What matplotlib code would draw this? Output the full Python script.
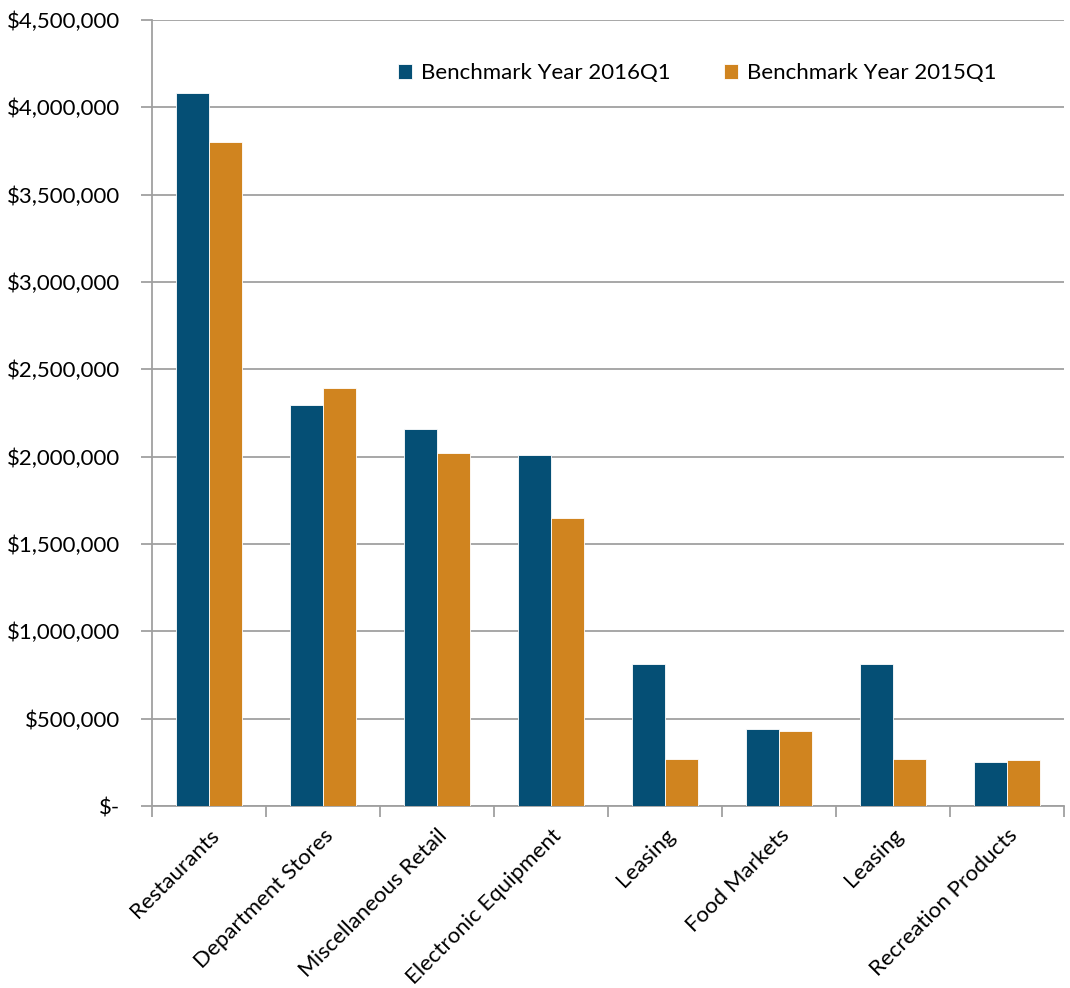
import numpy as np
import matplotlib
matplotlib.use("Agg")
import matplotlib.pyplot as plt
from matplotlib.ticker import FuncFormatter, FixedLocator

############################
# DATA
############################
categories = ["Restaurants", "Department Stores", "Miscellaneous Retail",
              "Electronic Equipment", "Leasing", "Food Markets", "Leasing",
              "Recreation Products"]
bench_2016 = [4082000, 2296000, 2160000, 2012000, 811000, 439000, 811000, 252000]
bench_2015 = [3801000, 2393000, 2021000, 1649000, 267000, 428000, 267000, 265000]
series_names = ["Benchmark Year 2016Q1", "Benchmark Year 2015Q1"]

C_2016 = "#054F75"
C_2015 = "#D0841F"
GRID = "#A0A0A0"

plt.rcParams["font.family"] = ["Lato", "DejaVu Sans"]

############################
# PLOT
############################
fig = plt.figure(figsize=(10.70, 9.88), dpi=100)
ax = fig.add_axes([152/1070, 1 - 806/988, (1064-152)/1070, (806-20)/988])

x = np.arange(len(categories))
w = 0.29
ax.bar(x - w/2, bench_2016, w, color=C_2016, edgecolor="white", linewidth=0.6,
       label=series_names[0], zorder=3)
ax.bar(x + w/2, bench_2015, w, color=C_2015, edgecolor="white", linewidth=0.6,
       label=series_names[1], zorder=3)

ax.set_xlim(-0.5, len(categories) - 0.5)
ax.set_ylim(0, 4500000)
ax.set_yticks(np.arange(0, 4500001, 500000))
ax.yaxis.set_major_formatter(FuncFormatter(lambda v, p: "$-" if v == 0 else f"${v:,.0f}"))
ax.grid(axis="y", color=GRID, linewidth=1.3, zorder=0)

# category labels centred, tick marks on the boundaries
ax.set_xticks(x)
ax.set_xticklabels(categories, rotation=45, ha="right", rotation_mode="anchor")
ax.tick_params(axis="x", length=0, pad=14)
ax.xaxis.set_minor_locator(FixedLocator(np.arange(-0.5, len(categories), 1.0)))
ax.tick_params(axis="x", which="minor", length=8, width=1.3, color=GRID)
ax.tick_params(axis="y", length=8, width=1.3, color=GRID, pad=15)
ax.tick_params(labelsize=16)

for s in ["top", "right"]:
    ax.spines[s].set_visible(False)
for s in ["left", "bottom"]:
    ax.spines[s].set_color(GRID)
    ax.spines[s].set_linewidth(1.3)

ax.legend(loc="center left", bbox_to_anchor=(0.2475, 0.9326), ncol=2, frameon=False,
          fontsize=16, handlelength=0.65, handleheight=0.65, handletextpad=0.4,
          columnspacing=2.4)

fig.savefig("out.png", dpi=100)
